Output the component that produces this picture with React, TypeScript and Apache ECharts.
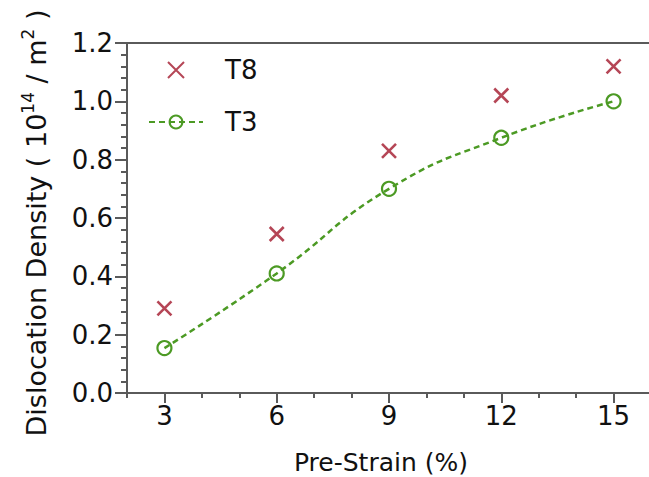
import React, { useEffect, useRef } from "react";
import * as echarts from "echarts";

const preStrain = [3, 6, 9, 12, 15];
const t8Values = [0.29, 0.545, 0.83, 1.02, 1.12];
const t3Values = [0.154, 0.41, 0.7, 0.875, 1.0];
const majorXTicks = [3, 6, 9, 12, 15];

const FONT = "DejaVu Sans";
const RED = "#a3182c";
const GREEN = "#4c9a24";
const AXIS = "#5a5a5a";

export default function App() {
  const ref = useRef<HTMLDivElement>(null);
  useEffect(() => {
    document.body.style.margin = "0";
    const chart = echarts.init(ref.current!, null, { renderer: "svg" });
    const lineStyle = { color: AXIS, width: 2 };
    chart.setOption({
      animation: false,
      grid: { left: 127, right: -2, top: 43, bottom: 84, outerBoundsMode: "none" },
      legend: {
        orient: "vertical",
        left: 143,
        top: 52,
        itemWidth: 54,
        itemHeight: 16,
        itemGap: 26,
        selectedMode: false,
        data: ["T8", "T3"],
        textStyle: { fontSize: 26, fontFamily: FONT, color: "#111", padding: [0, 0, 0, 17] },
      },
      xAxis: [
        {
          type: "value",
          min: 2,
          max: 16,
          position: "bottom",
          axisLine: { show: true, onZero: false, lineStyle },
          axisTick: { show: true, customValues: majorXTicks, length: 10, lineStyle },
          axisLabel: {
            customValues: majorXTicks,
            fontSize: 26,
            fontFamily: FONT,
            color: "#111",
            margin: 10,
          },
          splitLine: { show: false },
          name: "Pre-Strain (%)",
          nameLocation: "middle",
          nameGap: 57,
          nameTextStyle: { fontSize: 25, fontFamily: FONT, color: "#111", padding: [0, 16, 0, 0] },
        },
        {
          type: "value",
          min: 2,
          max: 16,
          interval: 1,
          position: "bottom",
          axisLine: { show: false },
          axisTick: { show: true, length: 5, lineStyle },
          axisLabel: { show: false },
          splitLine: { show: false },
        },
        {
          type: "value",
          min: 2,
          max: 16,
          position: "top",
          axisLine: { show: true, onZero: false, lineStyle },
          axisTick: { show: false },
          axisLabel: { show: false },
          splitLine: { show: false },
        },
      ],
      yAxis: {
        type: "value",
        min: 0,
        max: 1.2,
        interval: 0.2,
        axisLine: { show: true, onZero: false, lineStyle },
        axisTick: { show: true, length: 12, lineStyle },
        minorTick: { show: true, splitNumber: 5, length: 6, lineStyle },
        axisLabel: {
          formatter: (v: number) => v.toFixed(1),
          fontSize: 26,
          fontFamily: FONT,
          color: "#111",
          margin: 14,
        },
        splitLine: { show: false },
        name: "{a|Dislocation Density ( 10}{s|14}{a| / m}{s|2}{a| )}",
        nameLocation: "middle",
        nameGap: 74,
        nameRotate: 90,
        nameTextStyle: {
          padding: [0, 10, 0, 0],
          rich: {
            a: { fontSize: 27, fontFamily: FONT, color: "#111", lineHeight: 34 },
            s: { fontSize: 17, fontFamily: FONT, color: "#111", verticalAlign: "top", lineHeight: 20 },
          },
        },
      },
      series: [
        {
          name: "T8",
          type: "scatter",
          xAxisIndex: 0,
          data: preStrain.map((x, i) => [x, t8Values[i]]),
          symbol: "path://M0,0L10,10M10,0L0,10",
          symbolSize: 14,
          symbolKeepAspect: true,
          itemStyle: { color: "rgba(0,0,0,0)", borderColor: RED, borderWidth: 2.6 },
        },
        {
          name: "T3",
          type: "line",
          xAxisIndex: 0,
          data: preStrain.map((x, i) => [x, t3Values[i]]),
          smooth: 0.5,
          symbol: "circle",
          symbolSize: 14,
          itemStyle: { color: "rgba(0,0,0,0)", borderColor: GREEN, borderWidth: 2.2 },
          lineStyle: { color: GREEN, width: 2.5, type: [6, 4] },
        },
      ],
    });
    return () => chart.dispose();
  }, []);
  return (
    <div
      ref={ref}
      style={{ width: 649, height: 477, position: "absolute", left: 0, top: 0 }}
    />
  );
}
